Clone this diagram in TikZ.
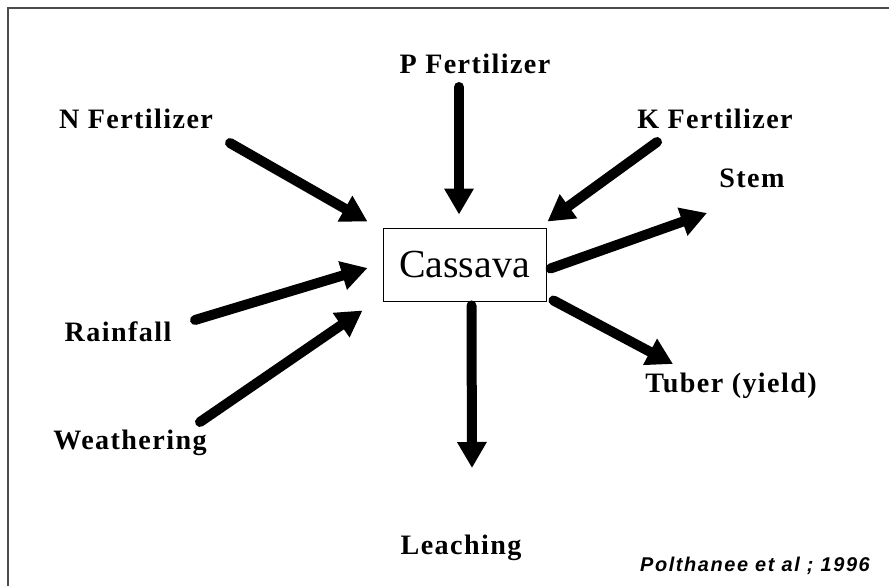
\documentclass[tikz,border=0pt]{standalone}
\usepackage{fontspec}
\setmainfont{Liberation Serif}
\newfontfamily\lblfont{Liberation Serif}[LetterSpace=5]
\newfontfamily\citefont{Liberation Sans}[LetterSpace=8]
\usepackage{tikz}
\usetikzlibrary{arrows.meta,calc}

\begin{document}
\begin{tikzpicture}[
    x=0.03cm, y=-0.03cm,
    factor/.style={inner sep=0pt, font=\lblfont\bfseries\fontsize{24}{27}\selectfont},
    crop/.style={draw, line width=0.8pt, minimum width=4.89cm, minimum height=2.19cm,
        inner sep=0pt, font=\fontsize{34}{37}\selectfont},
    flow/.style={-{Triangle[length=0.78cm, width=0.84cm]}, line width=0.3cm, line cap=round},
    frame/.style={draw=black!70, line width=0.9pt}
]
    \useasboundingbox (0,0) rectangle (889,586);
    \draw[frame] (8,586) -- (8,8) -- (889,8);

    \node[crop] (cassava) at (464.5,264.5) {Cassava};

    \node[factor] (pfert) at (475,64) {P Fertilizer};
    \node[factor] (nfert) at (136,119) {N Fertilizer};
    \node[factor] (kfert) at (715,119) {K Fertilizer};
    \node[factor] (stem) at (752,178) {Stem};
    \node[factor] (rain) at (118,332) {Rainfall};
    \node[factor] (tuber) at (731,386) {Tuber~(yield)};
    \node[factor] (weath) at (130,443) {Weathering};
    \node[factor] (leach) at (461,548) {Leaching};
    \node[inner sep=0pt, font=\citefont\bfseries\itshape\fontsize{17}{19}\selectfont] (cite)
        at (755,566) {Polthanee et al ; 1996};

    \draw[flow] ($(nfert)+(94,24)$) -- ($(cassava.north west)+(-15,-6)$);
    \draw[flow] ($(pfert)+(-16,23)$) -- ($(cassava.north)+(-5.5,-13)$);
    \draw[flow] ($(kfert)+(-58,23)$) -- ($(cassava.north east)+(1,-6)$);
    \draw[flow] ($(rain)+(77,-12)$) -- ($(cassava.west)+(-15,3.5)$);
    \draw[flow] ($(weath)+(70,-21)$) -- ($(cassava.south west)+(-20,9)$);
    \draw[flow] ($(cassava.east)+(4,4)$) -- ($(stem)+(-45,35)$);
    \draw[flow] ($(cassava.south east)+(7,-1)$) -- ($(tuber)+(-58,-22)$);
    \draw[flow] ($(cassava.south)+(7,4)$) -- ($(leach)+(11,-80)$);
\end{tikzpicture}
\end{document}
